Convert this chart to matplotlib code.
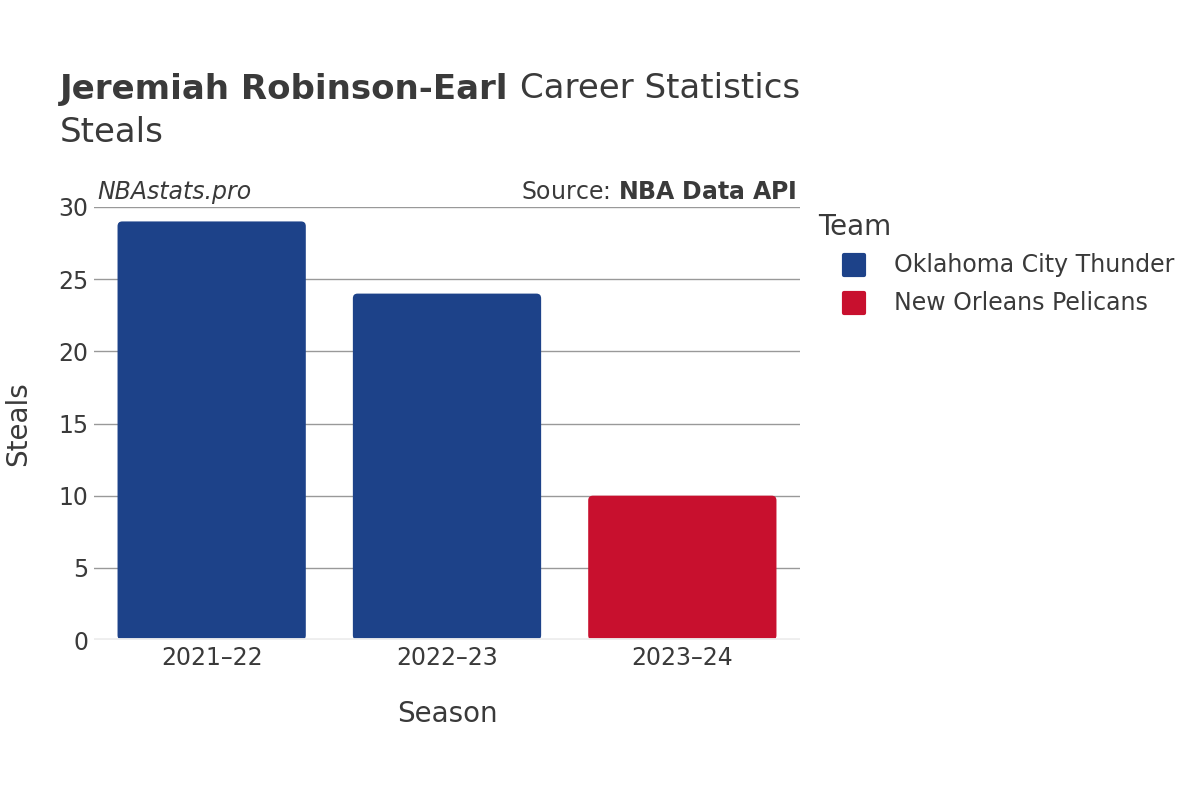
import matplotlib.pyplot as plt
from matplotlib.patches import FancyBboxPatch
from matplotlib.lines import Line2D
from matplotlib.markers import MarkerStyle

seasons = ["2021–22", "2022–23", "2023–24"]
steals = [29, 24, 10]
teams = ["Oklahoma City Thunder", "Oklahoma City Thunder", "New Orleans Pelicans"]
team_colors = {"Oklahoma City Thunder": "#1d4289", "New Orleans Pelicans": "#c8102e"}

txt = "#3a3a3a"
plt.rcParams["font.family"] = "DejaVu Sans"

W, H = 1200, 800
fig = plt.figure(figsize=(12, 8), dpi=100)
ax = fig.add_axes([94 / W, 1 - 640 / H, 706 / W, 433 / H])

x = list(range(len(seasons)))
bars = ax.bar(x, steals, width=0.8, color="none")
# rounded bars drawn over the plain ones
asp = (30 / 433) / (3 / 706)
for b, t in zip(bars, teams):
    p = FancyBboxPatch((b.get_x(), 0), b.get_width(), b.get_height(),
                       boxstyle="round,pad=0,rounding_size=0.02",
                       mutation_aspect=asp, fc=team_colors[t], ec="none", zorder=3)
    ax.add_patch(p)

ax.set_xlim(-0.5, 2.5)
ax.set_ylim(0, 30)
ax.set_yticks(range(0, 31, 5))
ax.set_xticks(x)
ax.set_xticklabels(seasons)
ax.grid(axis="y", color="#999999", linewidth=1)
ax.set_axisbelow(True)
ax.axhline(0, color="#eeeeee", linewidth=3.5, zorder=4)
for s in ax.spines.values():
    s.set_visible(False)
ax.tick_params(length=0, labelsize=17, colors=txt)
ax.tick_params(axis="x", pad=4)
ax.tick_params(axis="y", pad=4)
ax.set_xlabel("Season", fontsize=20, color=txt, labelpad=22)
ax.set_ylabel("Steals", fontsize=20, color=txt, labelpad=19)

t1 = fig.text(60 / W, 1 - 89 / H, "Jeremiah Robinson-Earl", fontsize=24.5,
              fontweight="bold", color=txt, va="center")
fig.canvas.draw()
bb = t1.get_window_extent()
fig.text((bb.x1 + 11) / W, 1 - 89 / H, "Career Statistics", fontsize=24.5,
         color=txt, va="center")
fig.text(60 / W, 1 - 133 / H, "Steals", fontsize=24.5, color=txt, va="center")

ax.text(0.005, 1.007, "NBAstats.pro", transform=ax.transAxes, fontsize=17,
        style="italic", color=txt, va="bottom")
ax.text(0.995, 1.007, "Source: $\\bf{NBA\\ Data\\ API}$", transform=ax.transAxes,
        fontsize=17, color=txt, va="bottom", ha="right")

# legend, placed by hand
fig.text(818 / W, 1 - 227 / H, "Team", fontsize=20, color=txt, va="center")
for i, (name, c) in enumerate(team_colors.items()):
    yy = 1 - (265 + 38 * i) / H
    fig.add_artist(Line2D([854 / W], [yy], marker=MarkerStyle("s", joinstyle="round"),
                          markersize=14, markerfacecolor=c, markeredgecolor=c,
                          markeredgewidth=3, linestyle="none"))
    fig.text(894 / W, yy, name, fontsize=17, color=txt, va="center")

fig.savefig("out.png", dpi=100, facecolor="white")
